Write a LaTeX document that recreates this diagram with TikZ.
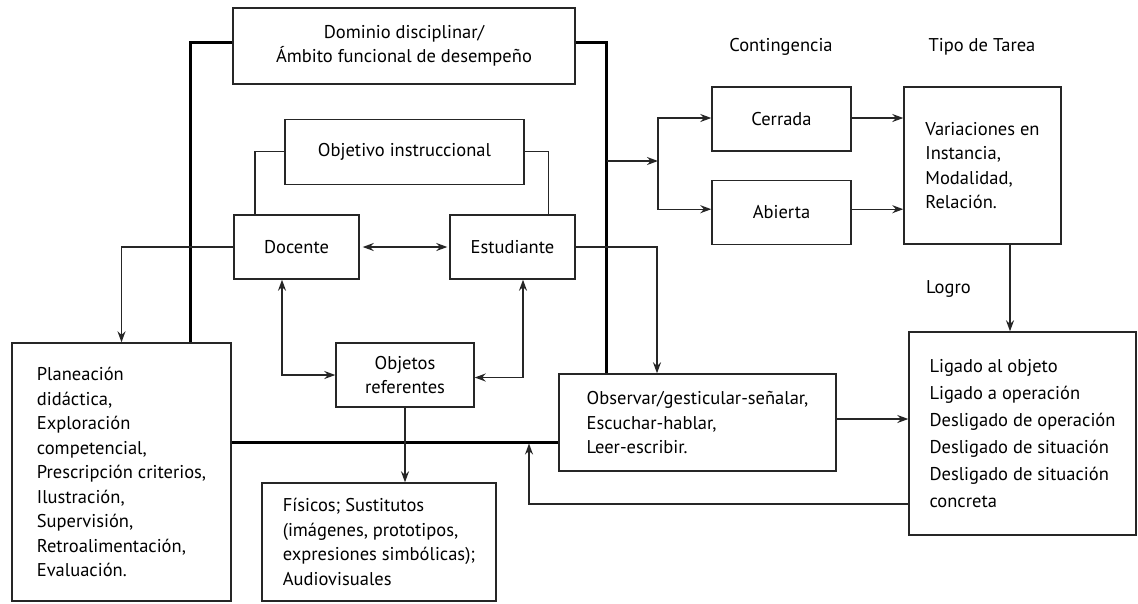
\documentclass[tikz,border=0pt]{standalone}
\usepackage{fontspec}
\setmainfont{PT Sans}
\usetikzlibrary{arrows.meta,positioning}

\begin{document}
\begin{tikzpicture}[x=1pt,y=-1pt,
    >={Stealth[length=11pt,width=8pt]},
    caja/.style={draw=black!85,line width=1.4pt,inner sep=0pt,align=center,
      font=\fontsize{18.5}{24.5}\selectfont},
    lista/.style={caja,align=left},
    linea/.style={line width=1.4pt,black!85},
    marco/.style={line width=3pt,black},
    titulo/.style={font=\fontsize{18.5}{24.5}\selectfont,inner sep=0pt}]
  \useasboundingbox (0,0) rectangle (1138,603);
  % Cajas centrales
  \node[caja,minimum width=342,minimum height=76] (dominio) at (404,46)
    {Dominio disciplinar/\\Ámbito funcional de desempeño};
  \node[caja,minimum width=239,minimum height=65] (objetivo) at (404.5,151.7) {Objetivo instruccional};
  \node[caja,minimum width=125,minimum height=64] (docente) at (296.5,247) {Docente};
  \node[caja,minimum width=125,minimum height=64] (estudiante) at (512.5,247) {Estudiante};
  \node[caja,minimum width=138,minimum height=64] (objetos) at (405,375) {Objetos\\referentes};
  % Cajas de abajo
  \node[lista,minimum width=219,minimum height=258] (planeacion) at (121.5,472)
    {Planeación\\didáctica,\\Exploración\\competencial,\\Prescripción criterios,\\Ilustración,\\Supervisión,\\Retroalimentación,\\Evaluación.};
  \node[lista,minimum width=234,minimum height=118] (fisicos) at (379,542)
    {Físicos; Sustitutos\\(imágenes, prototipos,\\expresiones simbólicas);\\Audiovisuales};
  \node[lista,minimum width=277,minimum height=97] (observar) at (697.5,422.5)
    {Observar/gesticular-señalar,\\Escuchar-hablar,\\Leer-escribir.};
  % Contingencia y tipo de tarea
  \node[titulo] (contingencia) at (781,46.7) {Contingencia};
  \node[titulo] (tipotarea) at (982,46.7) {Tipo de Tarea};
  \node[caja,minimum width=139,minimum height=64] (cerrada) at (781.5,119) {Cerrada};
  \node[caja,minimum width=139,minimum height=63.5] (abierta) at (781.5,212.5) {Abierta};
  \node[lista,minimum width=157,minimum height=157] (tipo) at (982.5,165.5)
    {Variaciones en\\Instancia,\\Modalidad,\\Relación.};
  \node[titulo,anchor=west] (logro) at (926,289) {Logro};
  \node[lista,minimum width=227,minimum height=203,
    font=\fontsize{18.5}{27}\selectfont] (ligado) at (1022.5,433.5)
    {Ligado al objeto\\Ligado a operación\\Desligado de operación\\Desligado de situación\\Desligado de situación\\concreta};
  % Marco grueso
  \coordinate (frameL) at (190.7,42.7);
  \coordinate (frameR) at (606.7,42.7);
  \coordinate (midline) at (0,442);
  \draw[marco] (dominio.west |- frameL) -- (frameL) -- (planeacion.north -| frameL);
  \draw[marco] (dominio.east |- frameR) -- (frameR) -- (observar.north -| frameR);
  \draw[marco] (planeacion.east |- midline) -- (observar.west |- midline);
  % Objetivo con docente y estudiante
  \draw[linea] (objetivo.west) -| ([xshift=-41.5]docente.north);
  \draw[linea] (objetivo.east) -| ([xshift=35.8]estudiante.north);
  \draw[linea,<->,shorten <=3pt,shorten >=2pt] (docente) -- (estudiante);
  \draw[linea,->] (docente.west) -| (planeacion.north);
  \draw[linea,->] (estudiante.east) -| ([xshift=-40.5]observar.north);
  % Objetos referentes
  \draw[linea,<->] ([xshift=-14.5]docente.south) |- (objetos.west);
  \draw[linea,<->] ([xshift=10.5]estudiante.south) |- ([yshift=-2.5]objetos.east);
  \draw[linea,->] (objetos.south) -- (objetos.south |- fisicos.north);
  % Contingencia
  \coordinate (fork) at (658,161);
  \draw[linea,->] (frameR |- fork) -- (fork);
  \draw[linea,->] (fork) |- ([yshift=1]cerrada.west);
  \draw[linea,->] (fork) |- ([yshift=3.3]abierta.west);
  \draw[linea,->] ([yshift=1]cerrada.east) -- ([yshift=1]cerrada.east -| tipo.west);
  \draw[linea,->] ([yshift=3.3]abierta.east) -- ([yshift=3.3]abierta.east -| tipo.west);
  % Logro
  \draw[linea,->] ([xshift=27.5]tipo.south) -- ([xshift=27.5]tipo.south |- ligado.north);
  \draw[linea,->] ([yshift=3.5]observar.east) -- ([yshift=3.5]observar.east -| ligado.west);
  % Retroalimentacion
  \coordinate (fbtip) at (529,443.5);
  \draw[linea,->] ([yshift=-70.5]ligado.west) -| (fbtip);
\end{tikzpicture}
\end{document}
